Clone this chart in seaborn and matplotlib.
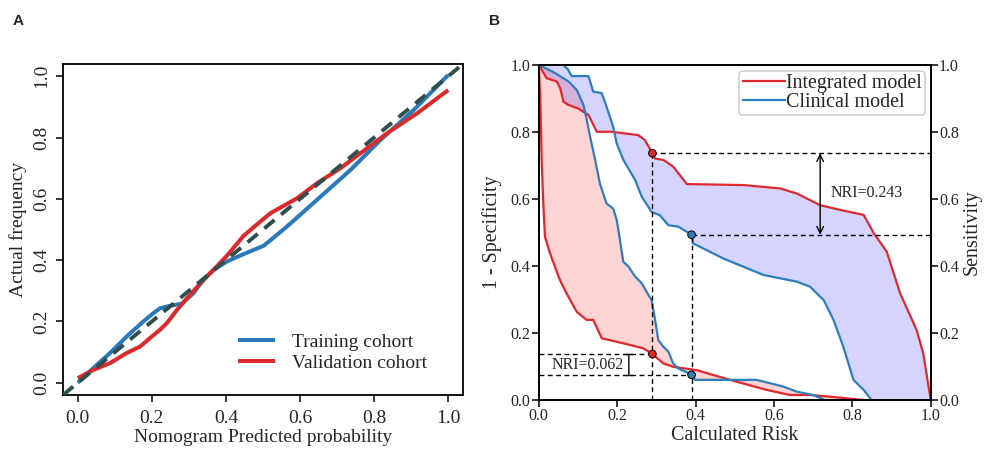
import numpy as np
import pandas as pd
import matplotlib
matplotlib.use("Agg")
import matplotlib.pyplot as plt
import seaborn as sns

# ---------------- Calibration curves (panel A) ----------------
train_pred = [0.0, 0.042, 0.087, 0.132, 0.177, 0.205, 0.222, 0.249, 0.281, 0.312, 0.339,
              0.366, 0.403, 0.448, 0.502, 0.565, 0.646, 0.736, 0.817, 0.907, 1.0]
train_obs = [0.0, 0.048, 0.097, 0.151, 0.200, 0.228, 0.243, 0.251, 0.258, 0.292, 0.336,
             0.368, 0.396, 0.420, 0.447, 0.510, 0.597, 0.694, 0.792, 0.890, 1.004]
valid_pred = [0.0, 0.042, 0.087, 0.132, 0.168, 0.195, 0.222, 0.240, 0.268, 0.295, 0.331,
              0.366, 0.403, 0.448, 0.493, 0.520, 0.592, 0.646, 0.709, 0.781, 0.835, 0.916, 1.0]
valid_obs = [0.015, 0.042, 0.064, 0.097, 0.118, 0.146, 0.173, 0.194, 0.238, 0.276, 0.325,
             0.368, 0.415, 0.480, 0.526, 0.553, 0.602, 0.651, 0.700, 0.765, 0.814, 0.879, 0.955]
cohort_names = ["Training cohort", "Validation cohort"]
ticks_a = [0.0, 0.2, 0.4, 0.6, 0.8, 1.0]

# ---------------- Risk assessment curves (panel B) ----------------
risk_sens_int = [0.0, 0.02, 0.046, 0.055, 0.063, 0.076, 0.10, 0.127, 0.148, 0.186, 0.254, 0.271,
                 0.29, 0.297, 0.318, 0.343, 0.378, 0.522, 0.616, 0.658, 0.718, 0.769, 0.829,
                 0.855, 0.888, 0.922, 0.964, 0.981, 1.0]
sens_int = [1.0, 0.96, 0.95, 0.93, 0.89, 0.88, 0.87, 0.85, 0.80, 0.80, 0.79, 0.775,
            0.736, 0.72, 0.716, 0.696, 0.644, 0.641, 0.631, 0.616, 0.581, 0.567, 0.552,
            0.497, 0.442, 0.318, 0.209, 0.139, 0.0]

risk_sens_cli = [0.0, 0.063, 0.075, 0.084, 0.127, 0.139, 0.161, 0.173, 0.19, 0.199, 0.216, 0.246,
                 0.263, 0.288, 0.309, 0.331, 0.356, 0.39, 0.394, 0.471, 0.573, 0.658, 0.692,
                 0.727, 0.752, 0.777, 0.803, 0.829, 0.849]
sens_cli = [1.0, 1.0, 0.985, 0.966, 0.966, 0.92, 0.915, 0.875, 0.815, 0.765, 0.716, 0.656,
            0.606, 0.561, 0.551, 0.521, 0.517, 0.493, 0.467, 0.422, 0.373, 0.353, 0.338,
            0.298, 0.239, 0.159, 0.06, 0.03, 0.0]

risk_fpr_int = [0.0, 0.004, 0.008, 0.012, 0.016, 0.029, 0.054, 0.071, 0.097, 0.122, 0.139, 0.161,
                0.216, 0.267, 0.29, 0.318, 0.343, 0.403, 0.488, 0.582, 0.641, 0.692, 0.743, 0.829]
fpr_int = [1.0, 0.9, 0.70, 0.58, 0.487, 0.437, 0.358, 0.318, 0.263, 0.239, 0.239, 0.184,
           0.169, 0.154, 0.137, 0.109, 0.099, 0.089, 0.06, 0.03, 0.015, 0.015, 0.01, 0.0]

risk_fpr_cli = [0.0, 0.042, 0.076, 0.097, 0.114, 0.122, 0.131, 0.144, 0.156, 0.173, 0.19, 0.199,
                0.207, 0.212, 0.216, 0.229, 0.246, 0.263, 0.28, 0.288, 0.297, 0.305, 0.318,
                0.331, 0.343, 0.356, 0.386, 0.39, 0.399, 0.556, 0.624, 0.658, 0.70, 0.73]
fpr_cli = [1.0, 0.975, 0.95, 0.925, 0.88, 0.84, 0.786, 0.716, 0.646, 0.586, 0.571, 0.537,
           0.48, 0.44, 0.412, 0.398, 0.368, 0.348, 0.313, 0.298, 0.239, 0.179, 0.159,
           0.144, 0.109, 0.094, 0.078, 0.075, 0.06, 0.06, 0.04, 0.025, 0.015, 0.0]

model_names = ["Integrated model", "Clinical model"]
cutoffs = [0.29, 0.39]          # risk thresholds (integrated, clinical)
sens_at_cut = [0.736, 0.493]    # sensitivity at each threshold
fpr_at_cut = [0.137, 0.075]     # 1 - specificity at each threshold
ticks_b = [0.0, 0.2, 0.4, 0.6, 0.8, 1.0]

# ---------------- style ----------------
sns.set_theme(style="ticks")
plt.rcParams["font.family"] = ["Liberation Serif", "DejaVu Serif"]
plt.rcParams["lines.solid_joinstyle"] = "round"
plt.rcParams["lines.solid_capstyle"] = "butt"

RED_A, BLUE_A = "#DA2A2C", "#2A7AB9"
RED_B, BLUE_B = "#E0282C", "#2E7EBB"

fig = plt.figure(figsize=(9.85, 4.57), dpi=100)
W, H = 985, 457


def px_axes(left, top, right, bottom):
    return fig.add_axes([left / W, 1 - bottom / H, (right - left) / W, (bottom - top) / H])


# ================= Panel A =================
ax = px_axes(63, 64, 463, 395)
calib = pd.concat([
    pd.DataFrame({"pred": train_pred, "obs": train_obs, "cohort": cohort_names[0]}),
    pd.DataFrame({"pred": valid_pred, "obs": valid_obs, "cohort": cohort_names[1]}),
])
ax.axline((0, 0), slope=1, color="#2F4F4F", lw=2.8, dashes=(3.4, 2.2), zorder=3)
sns.lineplot(data=calib, x="pred", y="obs", hue="cohort", hue_order=cohort_names,
             palette=[BLUE_A, RED_A], estimator=None, sort=False, lw=2.9,
             ax=ax, legend=False, zorder=2)
ax.set_xlim(-0.04, 1.04)
ax.set_ylim(-0.04, 1.04)
ax.set_xticks(ticks_a)
ax.set_yticks(ticks_a)
ax.set_xticklabels([f"{t:.1f}" for t in ticks_a])
ax.set_yticklabels([f"{t:.1f}" for t in ticks_a], rotation=90, va="center")
ax.tick_params(direction="out", length=5, width=1.1, labelsize=14, color="black")
ax.tick_params(axis="x", pad=6)
ax.tick_params(axis="y", pad=4)
for s in ax.spines.values():
    s.set_color("black")
    s.set_linewidth(1.3)
ax.set_xlabel("Nomogram Predicted probability", fontsize=14, labelpad=1)
ax.set_ylabel("Actual frequency", fontsize=14, labelpad=5)
handles = [plt.Line2D([], [], color=c, lw=2.9) for c in (BLUE_A, RED_A)]
ax.legend(handles, cohort_names, loc="lower right", bbox_to_anchor=(0.935, 0.04),
          frameon=False, fontsize=14, handlelength=1.9, handletextpad=0.9,
          labelspacing=0.2, borderpad=0)

# ================= Panel B =================
bx = px_axes(538.7, 64.7, 930.7, 400)

# shaded gaps between models
bx.fill(np.concatenate([risk_fpr_int, risk_fpr_cli[::-1]]),
        np.concatenate([fpr_int, fpr_cli[::-1]]),
        color="red", alpha=0.17, lw=0, zorder=1)
bx.fill(np.concatenate([risk_sens_int, risk_sens_cli[::-1]]),
        np.concatenate([sens_int, sens_cli[::-1]]),
        color="blue", alpha=0.17, lw=0, zorder=1)

curves = [
    (risk_sens_int, sens_int, RED_B, model_names[0]),
    (risk_sens_cli, sens_cli, BLUE_B, model_names[1]),
    (risk_fpr_int, fpr_int, RED_B, None),
    (risk_fpr_cli, fpr_cli, BLUE_B, None),
]
for xs, ys, col, lab in curves:
    kw = {"label": lab} if lab else {}
    sns.lineplot(x=xs, y=ys, color=col, lw=1.6, estimator=None, sort=False, ax=bx,
                 zorder=3, **kw)

# guide lines at the chosen thresholds
dash_kw = dict(color="black", lw=1.0, linestyles=(0, (3.5, 2.5)), zorder=4)
bx.vlines(cutoffs, 0, sens_at_cut, **dash_kw)
bx.hlines(sens_at_cut, cutoffs, 1.0, **dash_kw)
bx.hlines(fpr_at_cut, 0, cutoffs, **dash_kw)

bx.scatter(cutoffs * 2, sens_at_cut + fpr_at_cut, c=[RED_B, BLUE_B, RED_B, BLUE_B],
           s=30, edgecolors="black", linewidths=0.7, zorder=6)

nri_up = sens_at_cut[0] - sens_at_cut[1]
nri_low = fpr_at_cut[0] - fpr_at_cut[1]
bx.annotate("", xy=(0.718, sens_at_cut[0]), xytext=(0.718, sens_at_cut[1]),
            arrowprops=dict(arrowstyle="<->", lw=1.0, color="black",
                            shrinkA=0, shrinkB=0), zorder=5)
bx.text(0.744, 0.618, f"NRI={nri_up:.3f}", fontsize=11.5, ha="left", va="center")
bx.annotate("", xy=(0.23, fpr_at_cut[0]), xytext=(0.23, fpr_at_cut[1]),
            arrowprops=dict(arrowstyle="|-|, widthA=0.2, widthB=0.2", lw=1.0,
                            color="black", shrinkA=0, shrinkB=0), zorder=5)
bx.text(0.124, 0.104, f"NRI={nri_low:.3f}", fontsize=11.5, ha="center", va="center")

bx.set_xlim(0, 1)
bx.set_ylim(0, 1)
bx.set_xticks(ticks_b)
bx.set_yticks(ticks_b)
bx.set_xticklabels([f"{t:.1f}" for t in ticks_b])
bx.set_yticklabels([f"{t:.1f}" for t in ticks_b])
bx.tick_params(direction="out", length=5, width=1.1, labelsize=11.5, pad=1, color="black")
for s in bx.spines.values():
    s.set_color("black")
    s.set_linewidth(1.3)
bx.set_xlabel("Calculated Risk", fontsize=14.4, labelpad=1)
bx.set_ylabel("1 - Specificity", fontsize=14.4, labelpad=6)

bx2 = bx.twinx()
bx2.set_ylim(0, 1)
bx2.set_yticks(ticks_b)
bx2.set_yticklabels([f"{t:.1f}" for t in ticks_b])
bx2.tick_params(direction="out", length=5, width=1.1, labelsize=11.5, pad=1, color="black")
bx2.set_ylabel("Sensitivity", fontsize=14.4, labelpad=3, rotation=90)
for s in bx2.spines.values():
    s.set_color("black")
    s.set_linewidth(1.3)

leg = bx.legend(loc="upper right", fontsize=14.4, handlelength=2.2, handletextpad=0.0,
                labelspacing=0.0, borderpad=0.15, borderaxespad=0.3, fancybox=True,
                framealpha=1.0, edgecolor="#cfcfcf")
leg.get_frame().set_linewidth(1.2)
leg.set_zorder(10)

# panel letters
fig.text(13 / W, 1 - 25 / H, "A", fontsize=11, fontweight="bold",
         family="Liberation Sans", va="baseline")
fig.text(489 / W, 1 - 25 / H, "B", fontsize=11, fontweight="bold",
         family="Liberation Sans", va="baseline")

fig.savefig("out.png", dpi=100)
